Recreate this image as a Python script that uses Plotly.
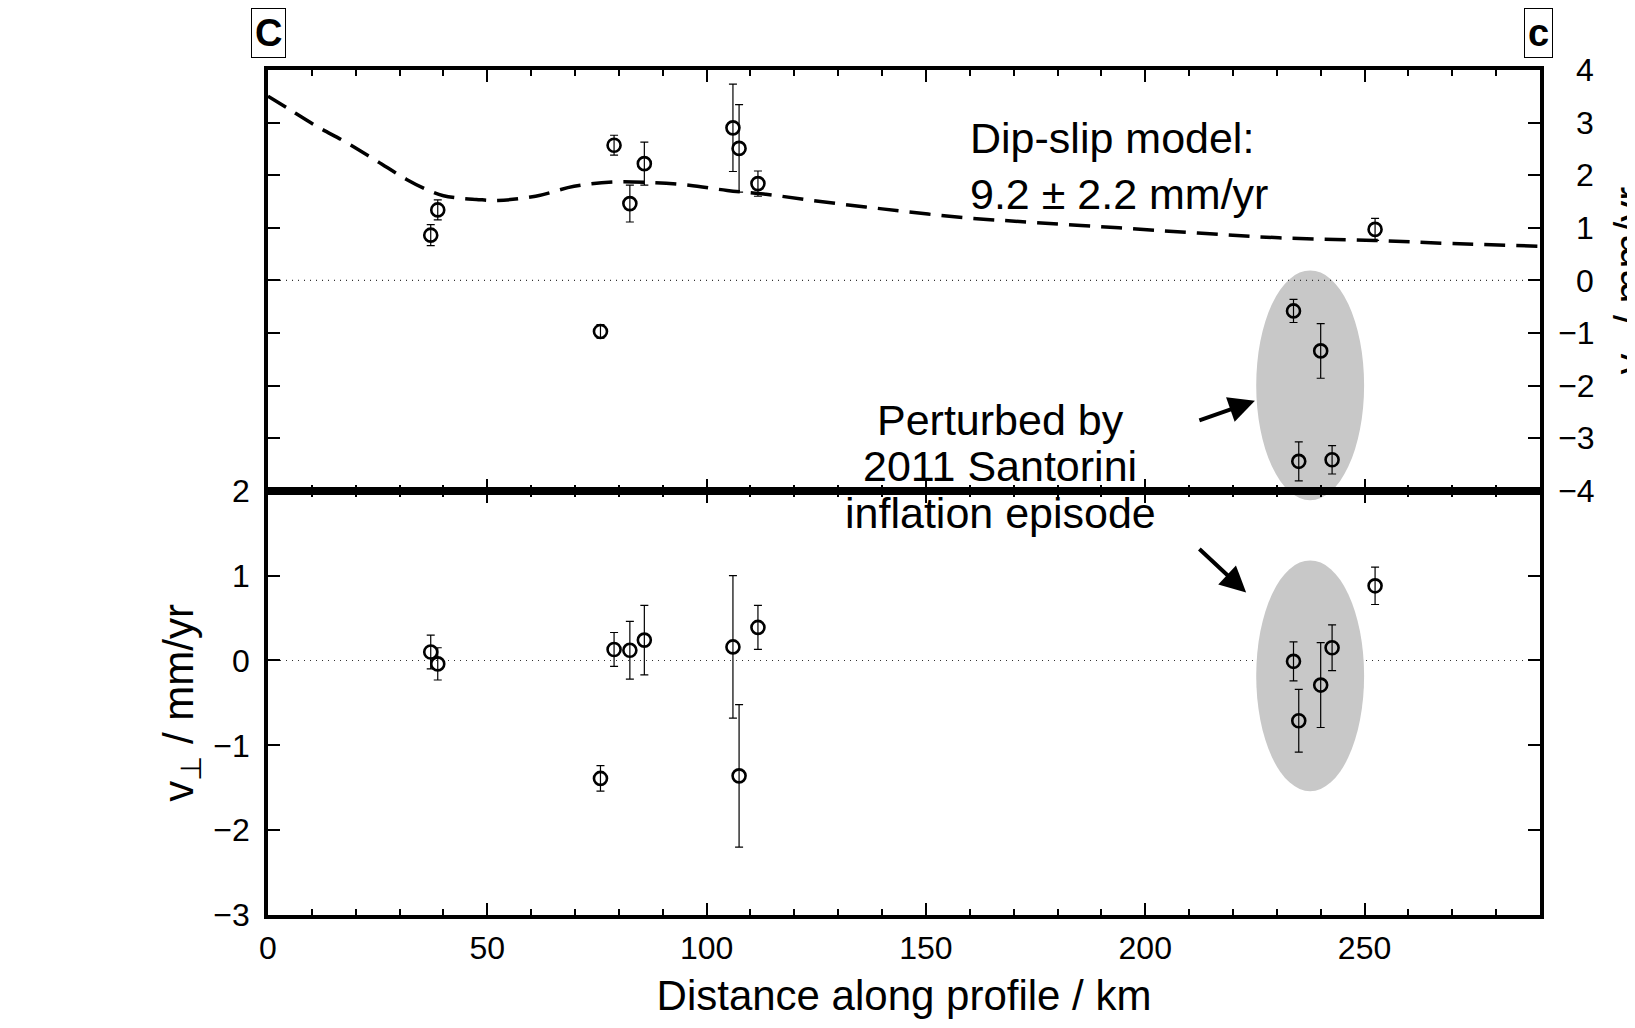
import plotly.graph_objects as go

# ---------------- data ----------------
distance = [37.1, 38.7, 75.8, 78.9, 82.5, 85.8, 106.0, 107.4, 111.7, 252.4, 233.8, 240.0, 235.0, 242.6]
v_par = [0.86, 1.34, -0.97, 2.57, 1.46, 2.22, 2.90, 2.51, 1.84, 0.97, -0.58, -1.34, -3.44, -3.41]
v_par_err = [0.20, 0.19, 0.13, 0.19, 0.35, 0.41, 0.83, 0.83, 0.24, 0.21, 0.22, 0.52, 0.37, 0.27]
v_perp = [0.10, -0.04, -1.39, 0.13, 0.12, 0.24, 0.16, -1.36, 0.39, 0.88, -0.01, -0.29, -0.71, 0.15]
v_perp_err = [0.20, 0.19, 0.15, 0.20, 0.34, 0.41, 0.84, 0.84, 0.26, 0.22, 0.23, 0.50, 0.37, 0.27]

model_x = [0, 4.3, 11.1, 17.9, 24.8, 31.6, 36.9, 40, 44, 47.5, 52.4, 61, 69.8, 78.6, 87.3, 96,
           104.7, 113.4, 124, 140, 157.7, 175, 194, 212, 230.5, 252.3, 270, 290]
model_v = [3.50, 3.28, 2.93, 2.62, 2.27, 1.92, 1.70, 1.61, 1.56, 1.54, 1.52, 1.60, 1.79, 1.87, 1.86, 1.81,
           1.71, 1.64, 1.52, 1.36, 1.20, 1.10, 1.00, 0.90, 0.81, 0.76, 0.70, 0.65]

# perturbed cluster outline (km, mm/yr)
cluster_km = [225.3, 249.9]
cluster_top = [-4.18, 0.19]
cluster_bottom = [-1.54, 1.18]

x_range = [0, 290]
top_range = [-4, 4]
bottom_range = [-3, 2]
top_ticks = [4, 3, 2, 1, 0, -1, -2, -3, -4]
top_ticktext = [("\u2007" + str(v)) if v >= 0 else ("\u2212" + str(-v)) for v in top_ticks]

FONT = "Liberation Sans, Arial, Helvetica, sans-serif"
BLACK = "black"
SPLIT = 0.502
TXT = 43

fig = go.Figure()

marker_style = dict(symbol="circle-open", size=13, color=BLACK, line=dict(width=2.6, color=BLACK))

fig.add_trace(go.Scatter(x=model_x, y=model_v, xaxis="x2", yaxis="y2", mode="lines",
                         line=dict(color=BLACK, width=3.5, dash="21px,11px", shape="spline"),
                         showlegend=False, hoverinfo="skip"))
fig.add_trace(go.Scatter(x=distance, y=v_par, xaxis="x2", yaxis="y2", mode="markers",
                         marker=marker_style,
                         error_y=dict(type="data", array=v_par_err, visible=True, thickness=1.2, width=4, color=BLACK),
                         showlegend=False))
fig.add_trace(go.Scatter(x=distance, y=v_perp, xaxis="x", yaxis="y", mode="markers",
                         marker=marker_style,
                         error_y=dict(type="data", array=v_perp_err, visible=True, thickness=1.2, width=4, color=BLACK),
                         showlegend=False))

common_x = dict(range=x_range, showline=True, linewidth=3.5, linecolor=BLACK, mirror="ticks",
                ticks="inside", ticklen=12, tickwidth=1.5, tickcolor=BLACK, tick0=0, dtick=50,
                minor=dict(dtick=10, ticks="inside", ticklen=6, tickwidth=1.5, tickcolor=BLACK, showgrid=False),
                showgrid=False, zeroline=False, tickfont=dict(size=32, color=BLACK, family=FONT))

common_y = dict(showline=True, linewidth=3.5, linecolor=BLACK, mirror="ticks",
                ticks="inside", ticklen=12, tickwidth=1.5, tickcolor=BLACK, dtick=1,
                showgrid=False, zeroline=False, tickfont=dict(size=32, color=BLACK, family=FONT))

fig.update_layout(
    width=1635, height=1028,
    margin=dict(l=260, r=103, t=62, b=121),
    paper_bgcolor="white", plot_bgcolor="white",
    font=dict(family=FONT, color=BLACK),
    xaxis=dict(common_x, domain=[0, 1], anchor="y", ticklabelstandoff=2,
               title=dict(text="Distance along profile / km", font=dict(size=42, family=FONT), standoff=16)),
    xaxis2=dict(common_x, domain=[0, 1], anchor="y2", matches="x", showticklabels=False),
    yaxis=dict(common_y, domain=[0, SPLIT], range=bottom_range, anchor="x", side="left", ticklabelstandoff=8,
               title=dict(text="v<sub>\u22a5</sub> / mm/yr", font=dict(size=42, family=FONT), standoff=8)),
    yaxis2=dict(common_y, domain=[SPLIT, 1], range=top_range, anchor="x2", side="right",
                tickmode="array", tickvals=top_ticks, ticktext=top_ticktext, ticklabelstandoff=8),
)


def top_to_paper(v):
    return SPLIT + (v - top_range[0]) / (top_range[1] - top_range[0]) * (1 - SPLIT)


shapes = [
    # top-panel outline is allowed to spill slightly over the panel edge, as in the original
    dict(type="circle", xref="x2 domain", yref="paper",
         x0=cluster_km[0] / x_range[1], x1=cluster_km[1] / x_range[1],
         y0=top_to_paper(cluster_top[0]), y1=top_to_paper(cluster_top[1]),
         fillcolor="#c8c8c8", line=dict(width=0), layer="below"),
    dict(type="circle", xref="x", yref="y", x0=cluster_km[0], x1=cluster_km[1],
         y0=cluster_bottom[0], y1=cluster_bottom[1],
         fillcolor="#c8c8c8", line=dict(width=0), layer="below"),
    dict(type="line", xref="x2 domain", yref="y2", x0=0, x1=1, y0=0, y1=0,
         line=dict(color="#333333", width=1.2, dash="1px,5px"), layer="below"),
    dict(type="line", xref="x domain", yref="y", x0=0, x1=1, y0=0, y1=0,
         line=dict(color="#333333", width=1.2, dash="1px,5px"), layer="below"),
]
fig.update_layout(shapes=shapes)

annots = [
    dict(text="Dip-slip model:<br>9.2 \u00b1 2.2 mm/yr", xref="x2", yref="y2", x=159.5, y=2.18,
         xanchor="left", yanchor="middle", align="left", showarrow=False, font=dict(size=TXT, family=FONT)),
    dict(text="Perturbed by", xref="x2", yref="y2", x=166.9, y=-2.66, xanchor="center", yanchor="middle",
         showarrow=False, font=dict(size=TXT, family=FONT)),
    dict(text="2011 Santorini", xref="x2", yref="y2", x=166.9, y=-3.52, xanchor="center", yanchor="middle",
         showarrow=False, font=dict(size=TXT, family=FONT)),
    dict(text="inflation episode", xref="x", yref="y", x=166.9, y=1.74, xanchor="center", yanchor="middle",
         showarrow=False, font=dict(size=TXT, family=FONT)),
    dict(text="", xref="x2", yref="y2", x=225, y=-2.29, axref="x2", ayref="y2", ax=212.0, ay=-2.67,
         showarrow=True, arrowhead=2, arrowsize=1.3, arrowwidth=4, arrowcolor=BLACK, standoff=0),
    dict(text="", xref="x", yref="y", x=223, y=0.80, axref="x", ayref="y", ax=212.0, ay=1.33,
         showarrow=True, arrowhead=2, arrowsize=1.3, arrowwidth=4, arrowcolor=BLACK, standoff=0),
    dict(text="<b>C</b>", xref="paper", yref="paper", x=0.0, y=1.044, xanchor="center", yanchor="middle",
         showarrow=False, font=dict(size=38, family=FONT), bordercolor=BLACK, borderwidth=1, borderpad=3,
         bgcolor="white"),
    dict(text="<b>c</b>", xref="paper", yref="paper", x=0.9988, y=1.044, xanchor="center", yanchor="middle",
         showarrow=False, font=dict(size=38, family=FONT), bordercolor=BLACK, borderwidth=1, borderpad=3,
         bgcolor="white"),
    dict(text="v<sub>\u2225</sub> / mm/yr", xref="paper", yref="paper", x=1.0731, y=(SPLIT + 1) / 2,
         xanchor="center", yanchor="middle", textangle=-90, showarrow=False, font=dict(size=42, family=FONT)),
]
fig.update_layout(annotations=annots)

fig.write_html("out.html")
